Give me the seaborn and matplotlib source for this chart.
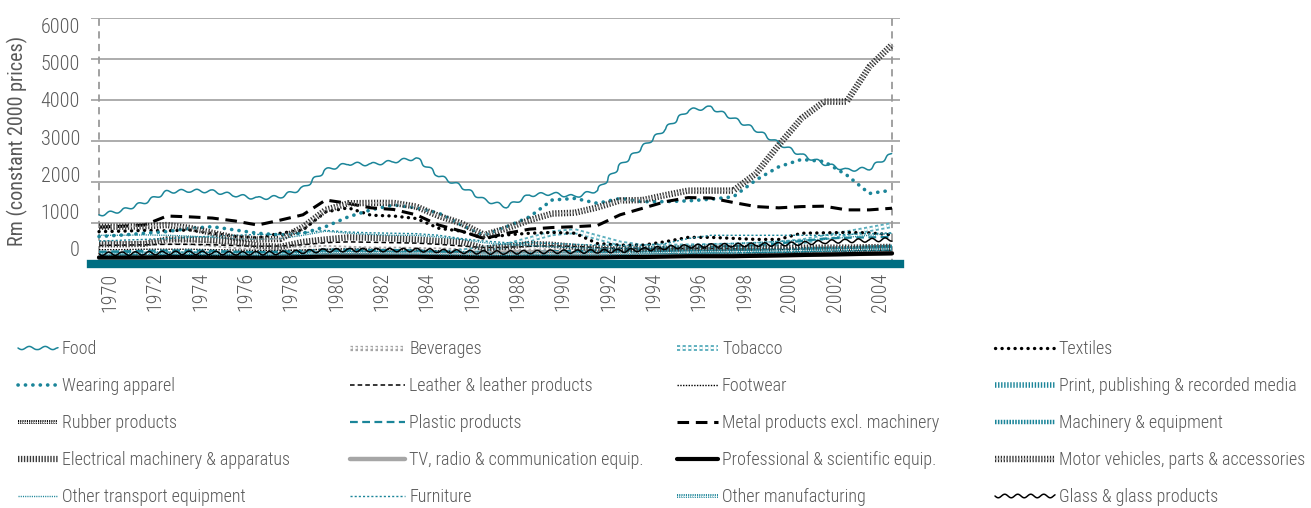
import matplotlib
matplotlib.use("Agg")
import matplotlib.pyplot as plt
import matplotlib.patheffects as pe
import matplotlib.transforms as mtransforms
import numpy as np
import pandas as pd
import seaborn as sns

years = list(range(1970, 2006))

food = [1200,1300,1500,1760,1790,1770,1680,1600,1640,1850,2290,2450,2430,2500,2580,2150,1890,1560,1400,1680,
        1720,1640,1800,2400,2860,3300,3750,3820,3550,3270,2940,2660,2450,2290,2330,2680]
beverages = [520,500,500,540,520,480,430,400,380,380,400,380,360,360,350,340,320,300,300,310,
             320,300,280,270,270,280,300,300,300,310,320,330,340,350,360,380]
tobacco = [220,220,220,230,230,230,230,230,230,230,250,250,250,250,250,260,300,380,450,600,
           750,800,650,500,420,420,430,440,450,470,500,550,650,750,850,950]
textiles = [790,800,820,810,830,750,670,640,750,830,1270,1370,1190,1170,1110,870,800,625,710,750,
            770,750,500,460,460,545,650,650,625,600,600,750,760,770,760,710]
wearing = [670,705,750,790,870,910,830,750,710,750,910,1150,1320,1440,1370,1240,950,700,910,1150,
           1560,1600,1480,1600,1520,1520,1540,1580,1640,2050,2370,2550,2500,2170,1720,1800]
leather = [450,460,470,480,480,470,450,430,440,470,520,540,530,520,510,480,440,400,410,430,
           440,430,400,380,370,370,380,380,370,360,350,350,350,340,340,340]
footwear = [350,350,360,360,360,350,340,330,330,340,360,370,360,350,340,320,300,280,280,290,
            290,280,260,250,250,250,260,260,260,260,260,270,270,270,280,280]
printing = [230,230,230,240,240,240,230,230,230,240,250,260,260,260,260,250,250,240,240,250,
            250,250,260,270,280,290,300,310,320,330,340,350,360,370,380,390]
rubber = [180,180,180,190,190,190,180,180,180,190,200,200,200,200,200,190,180,170,170,180,
          180,180,180,190,200,210,220,220,220,230,240,250,260,270,280,290]
plastic = [300,310,320,330,330,320,300,290,300,320,350,350,340,340,330,300,290,280,290,300,
           310,320,330,340,360,380,400,420,440,460,500,560,620,640,650,660]
metal = [900,920,950,1170,1150,1120,1050,950,1070,1200,1560,1480,1370,1330,1200,950,800,620,750,850,
         890,910,940,1200,1360,1520,1620,1610,1500,1400,1370,1400,1410,1320,1320,1360]
machinery = [200,200,210,220,220,210,200,190,200,220,250,260,250,250,250,230,220,200,200,210,
             220,220,230,240,260,280,300,300,300,310,320,340,360,380,400,420]
electrical = [480,480,490,600,600,580,540,450,420,540,600,650,640,620,600,560,540,380,420,490,
              470,420,380,350,360,370,380,380,390,390,390,400,400,400,410,420]
tv_radio = [150,150,160,170,170,160,160,150,160,180,210,220,220,220,220,220,230,250,280,290,
            270,240,220,210,200,200,200,200,200,200,210,220,230,240,250,260]
professional = [160,160,160,170,170,170,160,160,160,170,180,180,180,180,180,170,170,160,160,160,
                160,160,160,170,170,180,190,190,190,200,210,220,230,240,250,260]
motor = [910,910,920,950,880,760,640,600,610,900,1320,1480,1490,1490,1400,1170,990,710,870,1070,
         1230,1250,1380,1550,1560,1680,1790,1790,1790,2210,2900,3550,3960,3960,4810,5350]
other_transport = [700,700,710,700,680,650,620,600,620,700,800,750,720,700,700,660,600,520,480,450,
                   420,400,380,380,400,420,450,480,500,520,550,580,600,650,700,750]
furniture = [560,580,600,620,650,680,700,720,720,760,820,780,760,750,740,700,620,560,520,520,
             500,480,460,450,460,500,620,700,700,700,700,700,700,720,740,760]
other_manuf = [250,250,260,260,260,250,250,240,250,260,280,280,280,270,270,260,250,240,240,250,
               250,250,250,260,270,280,290,300,300,310,320,330,340,350,360,370]
glass = [250,250,260,270,270,270,260,260,270,300,330,340,340,340,340,320,300,280,280,290,
         300,300,310,320,350,400,430,450,460,470,480,500,540,560,580,600]

y_ticks = [0, 1000, 2000, 3000, 4000, 5000, 6000]
y_tick_labels = ["0", "1000", "2000", "3000", "4000", "5000", "6000"]
x_tick_years = years[::2]

TEAL = "#1b8599"
TEAL_L = "#5aaebd"
BAND = "#006e82"
GREY_TXT = "#595959"

sns.set_theme(style="white")
plt.rcParams["font.family"] = ["Roboto Condensed", "Liberation Sans Narrow", "Roboto", "DejaVu Sans"]
plt.rcParams["font.weight"] = "light"

fig = plt.figure(figsize=(13.11, 5.08), dpi=100)
ax = fig.add_axes([91/1311, 1 - 264/508, (900-91)/1311, (264-18)/508])

series = [
    ("Food", food, dict(color=TEAL, lw=1.1, sketch=(1.6, 15, 1))),
    ("Beverages", beverages, dict(color="white", lw=1.2, ls=(0, (1.5, 1.5)), stroke=(3.8, "#a6a6a6"))),
    ("Tobacco", tobacco, dict(color="white", lw=1.5, ls=(0, (1.5, 1.2)), stroke=(4.2, TEAL_L))),
    ("Textiles", textiles, dict(color="black", lw=2.4, ls=(0, (0.05, 1.9)), cap="round")),
    ("Wearing apparel", wearing, dict(color=TEAL, lw=2.6, ls=(0, (0.05, 2.0)), cap="round")),
    ("Leather & leather products", leather, dict(color="black", lw=1.1, ls=(0, (3, 2)))),
    ("Footwear", footwear, dict(color="black", lw=1.0, ls=(0, (1, 1)))),
    ("Print, publishing & recorded media", printing, dict(color=TEAL, lw=4, ls=(0, (0.25, 0.3)))),
    ("Rubber products", rubber, dict(color="white", lw=0.8, ls=(0, (1, 1)), stroke=(2.8, "black"))),
    ("Plastic products", plastic, dict(color=TEAL, lw=1.6, ls=(0, (3.5, 2)))),
    ("Metal products excl. machinery", metal, dict(color="black", lw=2.2, ls=(0, (3.8, 2.2)))),
    ("Machinery & equipment", machinery, dict(color=TEAL, lw=3.2, ls=(0, (0.35, 0.3)))),
    ("Electrical machinery & apparatus", electrical, dict(color="#3a3a3a", lw=4.5, ls=(0, (0.22, 0.25)))),
    ("TV, radio & communication equip.", tv_radio, dict(color="#a6a6a6", lw=3.2)),
    ("Professional & scientific equip.", professional, dict(color="black", lw=3.0)),
    ("Motor vehicles, parts & accessories", motor, dict(color="#8a8a8a", lw=1.3, ls=(0, (0.7, 0.9)), stroke=(4.6, "#303030"))),
    ("Other transport equipment", other_transport, dict(color=TEAL, lw=1.0, ls=(0, (0.8, 0.8)))),
    ("Furniture", furniture, dict(color=TEAL, lw=1.0, ls=(0, (1.5, 1.5)))),
    ("Other manufacturing", other_manuf, dict(color="white", lw=0.8, ls=(0, (1, 1)), stroke=(2.8, TEAL))),
    ("Glass & glass products", glass, dict(color="black", lw=1.1, sketch=(1.8, 13, 1))),
]

handles = {}
for label, vals, st in series:
    df = pd.DataFrame({"year": years, "value": vals})
    sns.lineplot(data=df, x="year", y="value", ax=ax, color=st["color"], linewidth=st["lw"],
                 linestyle=st.get("ls", "-"), legend=False)
    line = ax.lines[-1]
    line.set_label(label)
    if "cap" in st:
        line.set_dash_capstyle(st["cap"])
    if "sketch" in st:
        line.set_sketch_params(*st["sketch"])
    if "stroke" in st:
        w, c = st["stroke"]
        line.set_path_effects([pe.Stroke(linewidth=w, foreground=c), pe.Normal()])
    handles[label] = line

for lab in ["Metal products excl. machinery", "Wearing apparel", "Motor vehicles, parts & accessories", "Food"]:
    handles[lab].set_zorder(3)

ax.set_xlim(years[0] - 8/22.657, years[-1] + 8/22.657)
ax.set_ylim(0, 6000)

ax.set_yticks(y_ticks)
ax.set_yticklabels([""] * len(y_ticks))
ax.tick_params(axis="y", which="major", length=0)
ax.yaxis.grid(True, color="#a6a6a6", linewidth=1.3)
ax.xaxis.grid(False)
label_pos = np.linspace(366, 5829, len(y_tick_labels))
ax.set_yticks(label_pos, minor=True)
ax.set_yticklabels(y_tick_labels, minor=True)
ax.tick_params(axis="y", which="minor", length=0, pad=8, labelsize=14.5, labelcolor=GREY_TXT)

ax.set_xticks(x_tick_years)
ax.set_xticklabels([str(y) for y in x_tick_years], rotation=90)
ax.tick_params(axis="x", length=0, pad=6, labelsize=14.5, labelcolor=GREY_TXT)
offset = mtransforms.ScaledTranslation(11/100, 0, fig.dpi_scale_trans)
for lbl in ax.get_xticklabels():
    lbl.set_transform(lbl.get_transform() + offset)

for y0 in (years[0], years[-1]):
    ax.axvline(y0, ymin=-0.01, ymax=1, color="#9a9a9a", lw=1.3, ls=(0, (4, 3)), zorder=1, clip_on=False)

for s in ["top", "right", "left"]:
    ax.spines[s].set_visible(False)
ax.spines["bottom"].set_color(BAND)
ax.spines["bottom"].set_linewidth(6)
ax.spines["bottom"].set_zorder(5)

ax.set_ylabel("Rm (constant 2000 prices)", fontsize=14.5, color=GREY_TXT)
ax.set_xlabel("")
ax.yaxis.set_label_coords(-0.078, 0.5)

columns = [
    ["Food", "Wearing apparel", "Rubber products", "Electrical machinery & apparatus", "Other transport equipment"],
    ["Beverages", "Leather & leather products", "Plastic products", "TV, radio & communication equip.", "Furniture"],
    ["Tobacco", "Footwear", "Metal products excl. machinery", "Professional & scientific equip.", "Other manufacturing"],
    ["Textiles", "Print, publishing & recorded media", "Machinery & equipment", "Motor vehicles, parts & accessories",
     "Glass & glass products"],
]
col_x = [18, 350, 677, 995]
col_handle = [2.2, 3.05, 2.27, 3.3]
for cx, hl, col in zip(col_x, col_handle, columns):
    leg = fig.legend([handles[k] for k in col], col, ncol=1, loc="upper left",
                     bbox_to_anchor=(cx/1311, 1 - 340/508),
                     frameon=False, fontsize=13, handlelength=hl, handletextpad=0.22,
                     labelspacing=1.05, borderaxespad=0, borderpad=0)
    for t in leg.get_texts():
        t.set_color(GREY_TXT)

fig.savefig("out.png", dpi=100)
